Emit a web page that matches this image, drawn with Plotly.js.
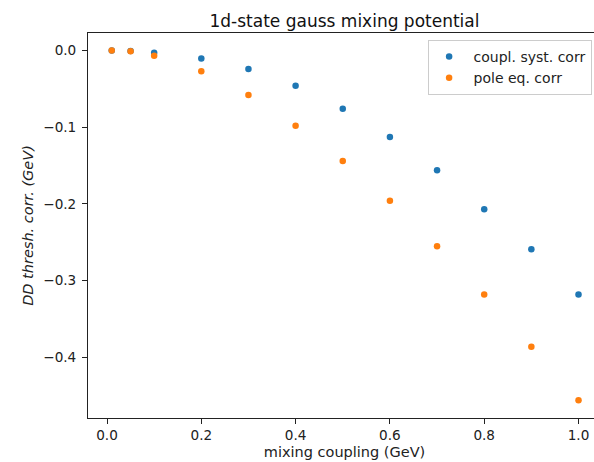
<!DOCTYPE html>
<html>
<head>
<meta charset="utf-8">
<script src="https://cdn.plot.ly/plotly-3.0.1.min.js"></script>
<style>html,body{margin:0;padding:0;overflow:hidden;background:#fff;width:594px;height:462px;}</style>
</head>
<body>
<div id="chart"></div>
<script>
const coupling = [0.01, 0.05, 0.1, 0.2, 0.3, 0.4, 0.5, 0.6, 0.7, 0.8, 0.9, 1.0];
const couplSystCorr = [0.0, -0.0005, -0.003, -0.0103, -0.0242, -0.046, -0.076, -0.1127, -0.156, -0.207, -0.259, -0.318];
const poleEqCorr = [0.0, -0.001, -0.007, -0.027, -0.058, -0.098, -0.144, -0.196, -0.255, -0.318, -0.386, -0.456];
const xTicks = [0.0, 0.2, 0.4, 0.6, 0.8, 1.0];
const yTicks = [0.0, -0.1, -0.2, -0.3, -0.4];

const font = "DejaVu Sans, sans-serif";
const traces = [
  {x: coupling, y: couplSystCorr, mode: 'markers', type: 'scatter', name: '\u00a0coupl. syst. corr',
   marker: {color: '#1f77b4', size: 6.5}},
  {x: coupling, y: poleEqCorr, mode: 'markers', type: 'scatter', name: '\u00a0pole eq. corr',
   marker: {color: '#ff7f0e', size: 6.5}}
];
const layout = {
  width: 602, height: 462,
  margin: {l: 88, r: 1, t: 33, b: 44},
  paper_bgcolor: '#fff', plot_bgcolor: '#fff',
  font: {family: font, size: 14, color: '#222'},
  title: {text: '1d-state gauss mixing potential', font: {family: font, size: 17, color: '#111'},
          x: 0.5, xref: 'paper', xanchor: 'center', y: 1, yref: 'paper', yanchor: 'bottom', pad: {b: 6}},
  xaxis: {range: [-0.0403, 1.0477], tickvals: xTicks, ticktext: xTicks.map(v => v.toFixed(1)),
          showgrid: false, zeroline: false, showline: true, mirror: true, linecolor: '#222', linewidth: 1,
          ticks: 'outside', ticklen: 5, tickcolor: '#222', tickfont: {size: 13.6},
          title: {text: 'mixing coupling (GeV)', font: {family: font, size: 14.5}, standoff: 4}},
  yaxis: {range: [-0.479, 0.0228], tickvals: yTicks, ticktext: yTicks.map(v => v === 0 ? '0.0' : '\u2212' + Math.abs(v).toFixed(1)),
          showgrid: false, zeroline: false, showline: true, mirror: true, linecolor: '#222', linewidth: 1,
          ticks: 'outside', ticklen: 5, tickcolor: '#222', tickfont: {size: 13.6}, ticklabelstandoff: 3,
          title: {text: '<i>DD thresh. corr. (GeV)</i>', font: {family: font, size: 14.5}, standoff: 6}},
  legend: {x: 0.663, y: 0.982, xanchor: 'left', yanchor: 'top', bgcolor: 'rgba(255,255,255,0.8)',
           bordercolor: '#ccc', borderwidth: 1, font: {family: font, size: 14, color: '#222'}},
  showlegend: true
};
Plotly.newPlot('chart', traces, layout, {displayModeBar: false, staticPlot: true});
</script>
</body>
</html>
